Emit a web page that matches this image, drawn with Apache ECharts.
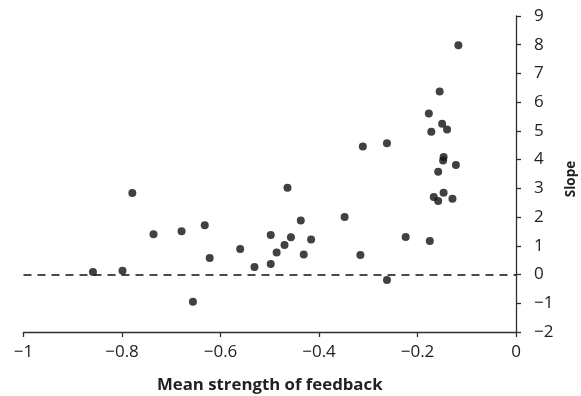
<!DOCTYPE html>
<html>
<head>
<meta charset="utf-8">
<script src="https://cdn.jsdelivr.net/npm/echarts@6/dist/echarts.min.js"></script>
<style>
  html, body { margin: 0; padding: 0; background: #fff; }
  #chart { width: 581px; height: 396px; }
</style>
</head>
<body>
<div id="chart"></div>
<script>
// mean strength of feedback (x) and slope (y)
var feedback = [
  -0.859, -0.799, -0.779, -0.736, -0.679, -0.632, -0.622, -0.656, -0.560, -0.531,
  -0.498, -0.498, -0.486, -0.470, -0.457, -0.464, -0.437, -0.431, -0.416, -0.348,
  -0.316, -0.262, -0.224, -0.175, -0.167, -0.158, -0.147, -0.129, -0.117, -0.155,
  -0.177, -0.150, -0.140, -0.172, -0.262, -0.311, -0.147, -0.148, -0.122, -0.158
]
var slope = [
  0.09, 0.13, 2.84, 1.40, 1.51, 1.72, 0.58, -0.95, 0.89, 0.26,
  1.38, 0.37, 0.77, 1.03, 1.30, 3.02, 1.88, 0.70, 1.22, 2.00,
  0.68, -0.19, 1.31, 1.17, 2.70, 2.56, 2.85, 2.64, 7.98, 6.37,
  5.61, 5.25, 5.05, 4.97, 4.57, 4.46, 4.09, 3.97, 3.81, 3.58
]
var xTicks = { min: -1, max: 0, interval: 0.2 }
var yTicks = { min: -2, max: 9, interval: 1 }
var refLine = 0

var fontFamily = '"Open Sans", sans-serif'
var axisColor = '#2e2e2e'
var textColor = '#222'

var points = feedback.map(function (x, i) { return [x, slope[i]] })

var myChart = echarts.init(document.getElementById('chart'))

var option = {
  animation: false,
  grid: { left: 23.5, right: 65, top: 16, bottom: 64, outerBoundsMode: 'none', containLabel: false },
  xAxis: {
    type: 'value',
    min: xTicks.min,
    max: xTicks.max,
    interval: xTicks.interval,
    name: 'Mean strength of feedback',
    nameLocation: 'middle',
    nameGap: 45,
    nameTextStyle: {
      fontFamily: fontFamily, fontWeight: 'bold', fontSize: 16.8, color: textColor
    },
    axisLine: { show: true, onZero: false, lineStyle: { color: axisColor, width: 1.3 } },
    axisTick: { show: true, length: 5, lineStyle: { color: axisColor, width: 1.3 } },
    axisLabel: {
      fontFamily: fontFamily, fontSize: 17, color: textColor, margin: 12,
      formatter: function (v) {
        if (v === 0) return '0'
        return String(Math.round(v * 10) / 10).replace('-', '\u2212')
      }
    },
    splitLine: { show: false }
  },
  yAxis: {
    type: 'value',
    position: 'right',
    min: yTicks.min,
    max: yTicks.max,
    interval: yTicks.interval,
    name: 'Slope',
    nameLocation: 'middle',
    nameRotate: 90,
    nameGap: 45,
    nameTextStyle: {
      fontFamily: fontFamily, fontWeight: 'bold', fontSize: 13.5, color: textColor,
      padding: [0, 10, 0, 0]
    },
    axisLine: { show: true, onZero: false, lineStyle: { color: axisColor, width: 1.3 } },
    axisTick: { show: true, length: 5, lineStyle: { color: axisColor, width: 1.3 } },
    axisLabel: {
      fontFamily: fontFamily, fontSize: 17, color: textColor, margin: 18,
      formatter: function (v) { return String(v).replace('-', '\u2212') }
    },
    splitLine: { show: false }
  },
  series: [{
    type: 'scatter',
    symbol: 'circle',
    symbolSize: 8,
    itemStyle: { color: '#111' },
    data: points,
    markLine: {
      silent: true,
      symbol: 'none',
      label: { show: false },
      lineStyle: { color: '#111', type: [8, 6], width: 1.6 },
      data: [{ yAxis: refLine }]
    }
  }]
}

myChart.setOption(option, true)
</script>
</body>
</html>
